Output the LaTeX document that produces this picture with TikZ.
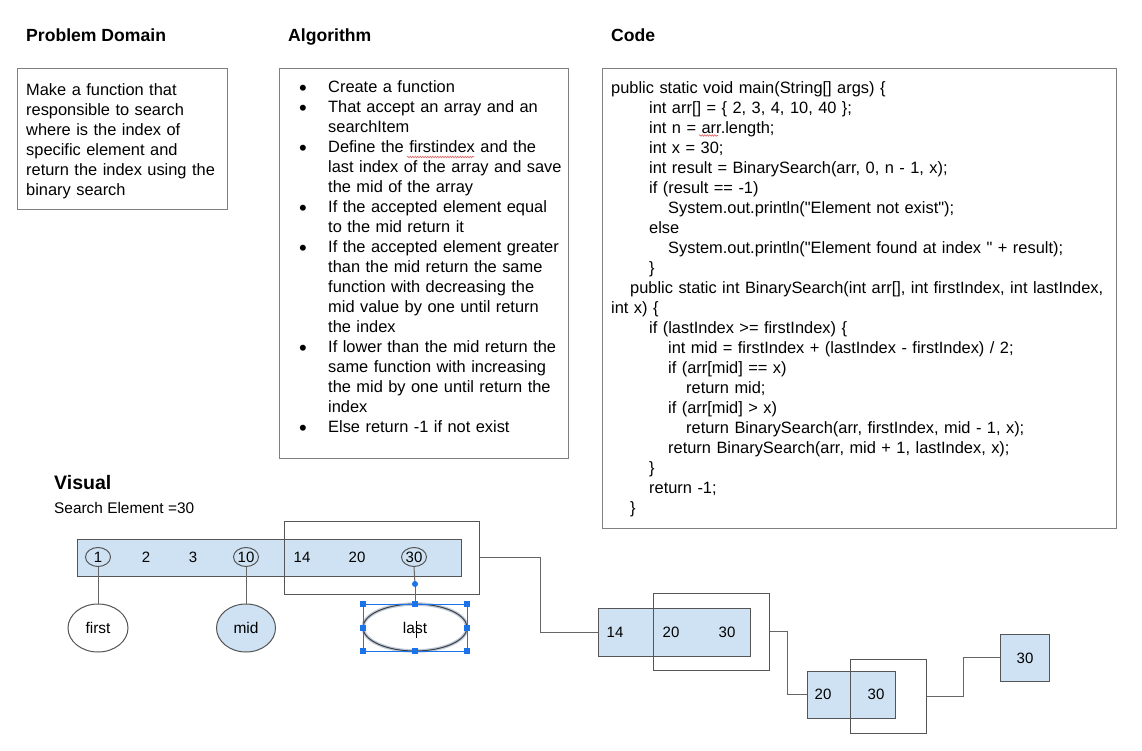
\documentclass[tikz,border=0pt]{standalone}
\usepackage{fontspec}
\setmainfont{Liberation Sans}[Ligatures=TeXOff]
\usetikzlibrary{shapes.geometric,decorations.pathmorphing}

\definecolor{cellblue}{HTML}{CFE2F3}
\definecolor{edgegray}{HTML}{555555}
\definecolor{panelgray}{HTML}{808080}
\definecolor{linkgray}{HTML}{666666}
\definecolor{selblue}{HTML}{1A73E8}
\definecolor{spellred}{HTML}{E06666}

\newcommand\codeindent[1]{\hspace*{#1pt}}
\newcommand\itembullet{\makebox[29pt][l]{\raisebox{-2.3pt}{\fontsize{22}{20}\selectfont\textbullet}}}

\begin{document}
\begin{tikzpicture}[x=1pt,y=-1pt,
  secheading/.style={font=\fontsize{17.6}{20}\selectfont\bfseries, anchor=base west, inner sep=0},
  bodytext/.style={font=\fontsize{16.4}{20}\selectfont, anchor=base west, inner sep=0,
    align=left, text width=#1},
  panelbox/.style={draw=panelgray, line width=1pt, fill=white, inner sep=0},
  arraycells/.style={draw=edgegray, fill=cellblue, line width=1pt, inner sep=0},
  rangebox/.style={draw=edgegray, line width=1pt, inner sep=0},
  numtext/.style={font=\fontsize{15}{18}\selectfont, inner sep=0},
  ringmark/.style={ellipse, draw=edgegray, line width=1pt, inner sep=0,
    minimum width=25pt, minimum height=19pt, font=\fontsize{15}{18}\selectfont},
  pointertag/.style={ellipse, draw=edgegray, line width=1pt, inner sep=0,
    minimum height=48pt, font=\fontsize{15.5}{18}\selectfont},
  linkline/.style={draw=linkgray, line width=1pt},
  selhandle/.style={fill=selblue, inner sep=0, minimum size=6pt},
  spellmark/.style={draw=spellred, line width=0.6pt,
    decorate, decoration={snake, amplitude=0.8pt, segment length=2.5pt}},
]
\useasboundingbox[fill=white] (0,0) rectangle (1142,751);

% ---------- section headings ----------
\node[secheading] (hprob) at (26,42) {Problem Domain};
\node[secheading] (halgo) at (288,42) {Algorithm};
\node[secheading] (hcode) at (611,42) {Code};

% ---------- panels ----------
\node[panelbox, minimum width=210pt, minimum height=141pt] (probbox) at (122,139.5) {};
\node[panelbox, minimum width=289pt, minimum height=389pt] (algobox) at (423.5,263.5) {};
\node[panelbox, minimum width=514pt, minimum height=459pt] (codebox) at (859,298.5) {};

\node[bodytext=200pt] (probtext) at (26,96) {Make a function that\\
responsible to search\\
where is the index of\\
specific element and\\
return the index using the\\
binary search};

\node[bodytext=280pt] (algotext) at (299,93) {\itembullet Create a function\\
\itembullet That accept an array and an\\
\codeindent{29}searchItem\\
\itembullet Define the firstindex and the\\
\codeindent{29}last index of the array and save\\
\codeindent{29}the mid of the array\\
\itembullet If the accepted element equal\\
\codeindent{29}to the mid return it\\
\itembullet If the accepted element greater\\
\codeindent{29}than the mid return the same\\
\codeindent{29}function with decreasing the\\
\codeindent{29}mid value by one until return\\
\codeindent{29}the index\\
\itembullet If lower than the mid return the\\
\codeindent{29}same function with increasing\\
\codeindent{29}the mid by one until return the\\
\codeindent{29}index\\
\itembullet Else return -1 if not exist};

\node[bodytext=510pt] (codetext) at (611,94) {public static void main(String[] args) \{\\
\codeindent{38}int arr[] = \{ 2, 3, 4, 10, 40 \};\\
\codeindent{38}int n = arr.length;\\
\codeindent{38}int x = 30;\\
\codeindent{38}int result = BinarySearch(arr, 0, n - 1, x);\\
\codeindent{38}if (result == -1)\\
\codeindent{57}System.out.println("Element not exist");\\
\codeindent{38}else\\
\codeindent{57}System.out.println("Element found at index " + result);\\
\codeindent{38}\}\\
\codeindent{19}public static int BinarySearch(int arr[], int firstIndex, int lastIndex,\\
int x) \{\\
\codeindent{38}if (lastIndex >= firstIndex) \{\\
\codeindent{57}int mid = firstIndex + (lastIndex - firstIndex) / 2;\\
\codeindent{57}if (arr[mid] == x)\\
\codeindent{75}return mid;\\
\codeindent{57}if (arr[mid] > x)\\
\codeindent{75}return BinarySearch(arr, firstIndex, mid - 1, x);\\
\codeindent{57}return BinarySearch(arr, mid + 1, lastIndex, x);\\
\codeindent{38}\}\\
\codeindent{38}return -1;\\
\codeindent{19}\}};

% spell-check marks
\draw[spellmark] (407,157) -- (474,157);
\draw[spellmark] (699,135.5) -- (718,135.5);

% ---------- visual ----------
\node[font=\fontsize{19.5}{22}\selectfont\bfseries, anchor=base west, inner sep=0] (hvis) at (54,489) {Visual};
\node[font=\fontsize{15.4}{18}\selectfont, anchor=base west, inner sep=0] (target) at (54,513) {Search Element =30};

% full array
\node[arraycells, minimum width=384pt, minimum height=37pt] (bar1) at (269,557.5) {};
\node[numtext] (n2) at (146,557) {2};
\node[numtext] (n3) at (193,557) {3};
\node[numtext] (n14) at (302,557) {14};
\node[numtext] (n20) at (357,557) {20};
\node[ringmark] (c1) at (98,557) {1};
\node[ringmark] (c10) at (246,557) {10};
\node[ringmark] (c30) at (414,557) {30};
\node[rangebox, minimum width=195pt, minimum height=73pt] (ov1) at (381.5,557.5) {};

% pointers
\node[pointertag, fill=white, minimum width=60pt] (first) at (98,628) {first};
\node[pointertag, fill=cellblue, minimum width=59pt] (mid) at (246,628) {mid};
\node[pointertag, draw=black!75, minimum width=104pt, minimum height=47pt,
  preaction={draw=selblue!35!gray!40, line width=3.5pt}] (last) at (415,627.5) {last};
\draw[linkline] (c1.south) -- (first.north);
\draw[linkline] (c10.south) -- (mid.north);

% selection frame on "last"
\coordinate (rot) at (415,584);
\draw[linkline] (c30.south) -- (rot);
\draw[selblue, line width=0.8pt] (rot) -- (last.north);
\node[draw=selblue, line width=0.8pt, inner sep=0, minimum width=104pt, minimum height=47pt] (sel) at (415,627.5) {};
\fill[selblue] (rot) circle (3pt);
\foreach \a [count=\i] in {north west,north,north east,east,south east,south,south west,west}
  \node[selhandle] (h\i) at (sel.\a) {};
\draw[line width=0.8pt] (416.5,621) -- (416.5,638);

% second step
\node[arraycells, minimum width=152pt, minimum height=48pt] (bar2) at (674,632) {};
\node[numtext] (m14) at (615,632) {14};
\node[numtext] (m20) at (671,632) {20};
\node[numtext] (m30) at (727,632) {30};
\node[rangebox, minimum width=116pt, minimum height=77pt] (ov2) at (711,631.5) {};

% third step
\node[arraycells, minimum width=88pt, minimum height=47pt] (bar3) at (851,694.5) {};
\node[numtext] (k20) at (823,694) {20};
\node[numtext] (k30) at (876,694) {30};
\node[rangebox, minimum width=76pt, minimum height=74pt] (ov3) at (888,696) {};

% result
\node[arraycells, minimum width=49pt, minimum height=47pt] (box4) at (1024.5,657.5) {};
\node[numtext] (r30) at (1025,658) {30};

% links between steps
\draw[linkline] (ov1.east) -- ++(61,0) |- (bar2.west);
\draw[linkline] (ov2.east) -- ++(18,0) |- (bar3.west);
\draw[linkline] (ov3.east) -- ++(37,0) |- (box4.west);
\end{tikzpicture}
\end{document}
